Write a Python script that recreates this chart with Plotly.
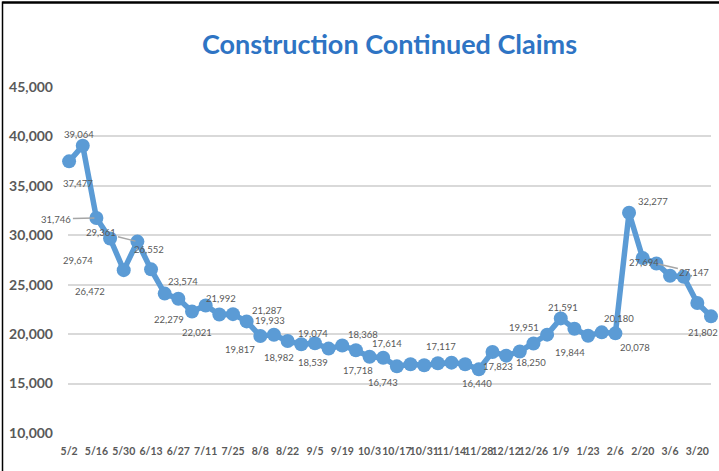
import plotly.graph_objects as go

weeks = ["5/2", "5/9", "5/16", "5/23", "5/30", "6/6", "6/13", "6/20", "6/27", "7/4",
         "7/11", "7/18", "7/25", "8/1", "8/8", "8/15", "8/22", "8/29", "9/5", "9/12",
         "9/19", "9/26", "10/3", "10/10", "10/17", "10/24", "10/31", "11/7", "11/14", "11/21",
         "11/28", "12/5", "12/12", "12/19", "12/26", "1/2", "1/9", "1/16", "1/23", "1/30",
         "2/6", "2/13", "2/20", "2/27", "3/6", "3/13", "3/20", "3/27"]

claims = [37477, 39064, 31746, 29674, 26472, 29361, 26552, 24100, 23574, 22279,
          22900, 21992, 22021, 21287, 19817, 19933, 19300, 18982, 19074, 18539,
          18850, 18368, 17718, 17614, 16743, 16950, 16850, 17050, 17117, 16950,
          16440, 18200, 17823, 18250, 19050, 19951, 21591, 20550, 19844, 20180,
          20078, 32277, 27694, 27147, 25900, 25800, 23150, 21802]

tick_labels = weeks[::2]

# label placement (pixel offsets from the point: dx right, dy down)
label_offsets = {0: (9, 22), 1: (-4, -11), 2: (-40, 1), 3: (-32, 22), 4: (-34, 21),
                 5: (-36, -9), 6: (-2, -20), 8: (5, -17), 9: (-23, 8), 11: (2, -16),
                 12: (-36, 18), 13: (20, -11), 14: (-20, 14), 15: (-4, -14), 17: (-22, 13),
                 18: (-2, -10), 19: (-16, 14), 21: (7, -16), 22: (-12, 14), 23: (4, -14),
                 24: (-14, 16), 28: (-11, -16), 30: (-2, 14), 32: (-8, 11), 33: (11, 11),
                 35: (-23, -7), 36: (2, -11), 38: (-18, 17), 39: (17, -14), 40: (20, 14),
                 41: (24, -11), 42: (1, 4), 43: (38, 9), 47: (-8, 16)}
leader_lines = {2, 5, 43}

LINE = "#5B9BD5"
GRAY = "#595959"

fig = go.Figure()
fig.add_trace(go.Scatter(
    x=weeks, y=claims, mode="lines+markers",
    line=dict(color=LINE, width=5.5),
    marker=dict(color=LINE, size=14),
    cliponaxis=False, hoverinfo="x+y", showlegend=False,
))

annotations = []
for i, (dx, dy) in label_offsets.items():
    txt = f"{claims[i]:,}"
    if i in leader_lines:
        annotations.append(dict(
            x=weeks[i], y=claims[i], text=txt, showarrow=True, ax=dx, ay=dy,
            arrowhead=0, arrowwidth=1.5, arrowcolor="#A6A6A6", standoff=2,
            font=dict(family="Lato", size=9.5, color=GRAY)))
    else:
        annotations.append(dict(
            x=weeks[i], y=claims[i], text=txt, showarrow=False,
            xshift=dx, yshift=-dy,
            font=dict(family="Lato", size=9.5, color=GRAY)))

# chart frame (top and left edges)
W, H = 719, 471
ML, MR, MT, MB = 68, 8, 87, 38
pw, ph = W - ML - MR, H - MT - MB
shapes = [
    dict(type="line", xref="paper", yref="paper",
         x0=(2.5 - ML) / pw, x1=(W - ML) / pw,
         y0=1 + (MT - 2.5) / ph, y1=1 + (MT - 2.5) / ph,
         line=dict(color="black", width=2.5)),
    dict(type="line", xref="paper", yref="paper",
         x0=(2.5 - ML) / pw, x1=(2.5 - ML) / pw,
         y0=-MB / ph, y1=1 + (MT - 1.5) / ph,
         line=dict(color="black", width=1.5)),
]

fig.update_layout(
    width=W, height=H,
    margin=dict(l=ML, r=MR, t=MT, b=MB),
    paper_bgcolor="white", plot_bgcolor="white",
    title=dict(text="Construction Continued Claims", x=0.5, xanchor="center",
               xref="paper", y=1 - 45 / H, yanchor="middle",
               font=dict(family="Lato", size=27, color="#2E74C4", weight="bold")),
    xaxis=dict(type="category", range=[-0.08, 47.0], tickmode="array",
               tickvals=tick_labels, ticktext=tick_labels, tickangle=0,
               showgrid=False, zeroline=False, showline=False, ticks="",
               ticklabelstandoff=10,
               tickfont=dict(family="Lato", size=10.5, color=GRAY, weight="bold")),
    yaxis=dict(range=[10000, 45000], dtick=5000, tickformat=",",
               showgrid=True, gridcolor="#D9D9D9", gridwidth=1.5,
               zeroline=False, showline=False, ticks="", ticklabelstandoff=14,
               tickfont=dict(family="Lato", size=14, color=GRAY, weight="bold")),
    annotations=annotations,
    shapes=shapes,
)

fig.write_html("out.html", config={"displayModeBar": False},
               post_script="document.body.style.margin='0';document.body.style.overflow='hidden';")
